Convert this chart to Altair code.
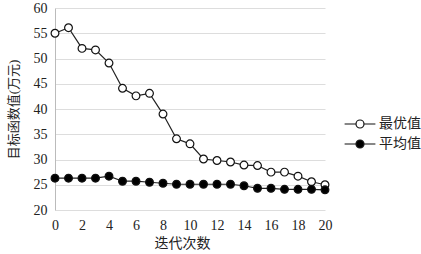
import altair as alt
import pandas as pd

iterations = list(range(21))
best_values = [55.0, 56.1, 52.0, 51.7, 49.1, 44.1, 42.6, 43.1, 39.0, 34.1, 33.1,
               30.1, 29.8, 29.5, 28.9, 28.8, 27.5, 27.5, 26.7, 25.6, 25.0]
avg_values = [26.3, 26.3, 26.3, 26.3, 26.7, 25.7, 25.7, 25.5, 25.3, 25.1, 25.1,
              25.1, 25.1, 25.1, 24.8, 24.3, 24.3, 24.1, 24.1, 24.1, 24.0]
series_names = ["最优值", "平均值"]
y_ticks = [20, 25, 30, 35, 40, 45, 50, 55, 60]
x_ticks = list(range(0, 21, 2))

rows = []
for i, b, a in zip(iterations, best_values, avg_values):
    rows.append({"iter": i, "value": b, "series": series_names[0]})
    rows.append({"iter": i, "value": a, "series": series_names[1]})
df = pd.DataFrame(rows)

FONT = "Liberation Serif, DejaVu Serif, Noto Sans CJK SC, serif"

x_enc = alt.X("iter:Q", scale=alt.Scale(domain=[0, 20], nice=False),
              axis=alt.Axis(values=x_ticks, title="迭代次数", grid=False, domain=False,
                            ticks=False, labelPadding=8, titlePadding=4, labelOverlap=False,
                            labelFlush=False, titleX=127, labelFontSize=14, titleFontSize=14,
                            labelFont=FONT, titleFont=FONT))
y_enc = alt.Y("value:Q", scale=alt.Scale(domain=[20, 60], nice=False, zero=False),
              axis=alt.Axis(values=y_ticks, title="目标函数值(万元)", grid=True,
                            ticks=False, labelPadding=8, titlePadding=13, labelOverlap=False,
                            labelFlush=False, labelFontSize=14, titleFontSize=13,
                            labelFont=FONT, titleFont=FONT))

base = alt.Chart(df)
lines = base.mark_line(color="#222222", strokeWidth=1.2).encode(
    x=x_enc, y=y_enc, detail="series:N")

legend_path = "M-2.2,0H-0.57 M0.57,0H2.2 M0.57,0A0.57,0.57 0 1 1 -0.57,0A0.57,0.57 0 1 1 0.57,0"

points = base.mark_point(filled=False, size=60, stroke="#111111", strokeWidth=1.2, opacity=1).encode(
    x=x_enc, y=y_enc,
    fill=alt.Fill("series:N",
                  scale=alt.Scale(domain=series_names, range=["white", "black"]),
                  legend=alt.Legend(title=None, orient="none", legendX=297, legendY=108,
                                    symbolType=legend_path, symbolSize=196,
                                    symbolStrokeColor="#111111", symbolStrokeWidth=1.2,
                                    labelFontSize=14, labelOffset=11, rowPadding=5,
                                    labelFont=FONT, labelColor="#222222")))

chart = (lines + points).properties(
    width=270, height=202,
    autosize=alt.AutoSizeParams(type="none"),
    padding={"left": 55, "top": 8, "right": 96, "bottom": 44},
).configure_view(stroke=None).configure_axis(
    labelColor="#222222", titleColor="#222222",
    titleFontWeight="normal", domainColor="#bbbbbb", gridColor="#dddddd",
).configure_axisX(domain=False)

chart.save("out.html", embed_options={"renderer": "svg", "actions": False})
